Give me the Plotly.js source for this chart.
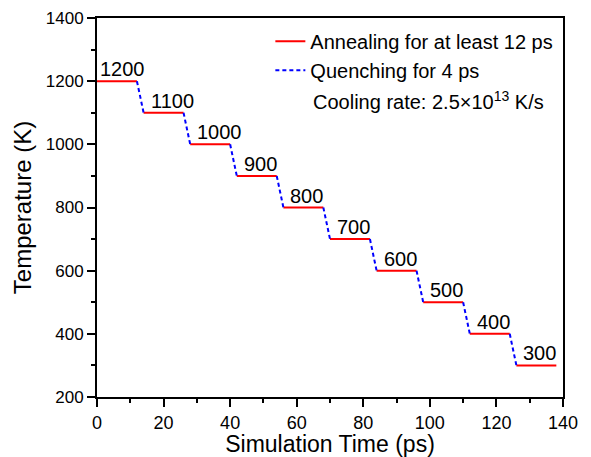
<!DOCTYPE html>
<html>
<head>
<meta charset="utf-8">
<script src="https://cdn.plot.ly/plotly-3.0.1.min.js"></script>
<style>html,body{margin:0;padding:0;background:#fff;}#chart{width:591px;height:457px;}</style>
</head>
<body>
<div id="chart"></div>
<script>
// Data
const temps = [1200, 1100, 1000, 900, 800, 700, 600, 500, 400, 300];
const annealStart = [0, 14, 28, 42, 56, 70, 84, 98, 112, 126];
const annealEnd = [12, 26, 40, 54, 68, 82, 96, 110, 124, 138];
const stepLabels = ['1200', '1100', '1000', '900', '800', '700', '600', '500', '400', '300'];
const legendNames = ['Annealing for at least 12 ps', 'Quenching for 4 ps'];
const noteText = 'Cooling rate: 2.5×10<sup>13</sup> K/s';

// Build annealing (red) and quenching (blue dashed) polylines with gaps
const ax = [], ay = [], qx = [], qy = [];
temps.forEach((t, i) => {
  ax.push(annealStart[i], annealEnd[i], null);
  ay.push(t, t, null);
  if (i < temps.length - 1) {
    qx.push(annealEnd[i], annealStart[i + 1], null);
    qy.push(t, temps[i + 1], null);
  }
});

const FONT = 'Liberation Sans, Arial, sans-serif';

const traces = [
  {x: ax, y: ay, mode: 'lines', name: legendNames[0],
   line: {color: '#ff0000', width: 2}, connectgaps: false, hoverinfo: 'skip'},
  {x: qx, y: qy, mode: 'lines', name: legendNames[1],
   line: {color: '#0000ff', width: 2, dash: '4px,3px'}, connectgaps: false, hoverinfo: 'skip'}
];

const annotations = temps.map((t, i) => ({
  x: annealStart[i] + (i === 0 ? 0.2 : 1.5), y: t, xref: 'x', yref: 'y',
  text: stepLabels[i], showarrow: false, xanchor: 'left', yanchor: 'bottom',
  yshift: -1, font: {family: FONT, size: 20, color: '#000'}
}));
annotations.push({
  x: 311, y: 100, xref: 'paper', yref: 'paper', text: noteText, showarrow: false,
  xanchor: 'left', yanchor: 'middle', font: {family: FONT, size: 20, color: '#000'}
});

const layout = {
  width: 591, height: 457,
  margin: {l: 96.5, r: 28, t: 17.5, b: 59.5, pad: 0},
  paper_bgcolor: '#fff', plot_bgcolor: '#fff',
  font: {family: FONT, color: '#000'},
  showlegend: true,
  legend: {x: 0.372, y: 0.99, xanchor: 'left', yanchor: 'top',
           bgcolor: 'rgba(0,0,0,0)', borderwidth: 0,
           font: {family: FONT, size: 20, color: '#000'}, tracegroupgap: 0},
  xaxis: {
    range: [0, 140], dtick: 20, tick0: 0,
    showline: true, linecolor: '#000', linewidth: 2, mirror: true,
    ticks: 'outside', ticklen: 8, tickwidth: 2, tickcolor: '#000',
    minor: {dtick: 10, ticks: 'outside', ticklen: 4, tickwidth: 2, tickcolor: '#000', showgrid: false},
    showgrid: false, zeroline: false,
    tickfont: {family: FONT, size: 18, color: '#000'},
    title: {text: 'Simulation Time (ps)', font: {family: FONT, size: 23, color: '#000'}, standoff: 6}
  },
  yaxis: {
    range: [200, 1400], dtick: 200, tick0: 200,
    showline: true, linecolor: '#000', linewidth: 2, mirror: true,
    ticks: 'outside', ticklen: 8, tickwidth: 2, tickcolor: '#000',
    minor: {dtick: 100, ticks: 'outside', ticklen: 4, tickwidth: 2, tickcolor: '#000', showgrid: false},
    showgrid: false, zeroline: false,
    tickfont: {family: FONT, size: 17, color: '#000'},
    title: {text: 'Temperature (K)', font: {family: FONT, size: 24, color: '#000'}, standoff: 7}
  },
  annotations: annotations
};

// Convert note's pixel position to paper coords
const pw = 591 - 96.5 - 28, ph = 457 - 17.5 - 59.5;
annotations[annotations.length - 1].x = (311 - 96.5) / pw;
annotations[annotations.length - 1].y = 1 - (100 - 17.5) / ph;

Plotly.newPlot('chart', traces, layout, {staticPlot: true, displayModeBar: false});
</script>
</body>
</html>
